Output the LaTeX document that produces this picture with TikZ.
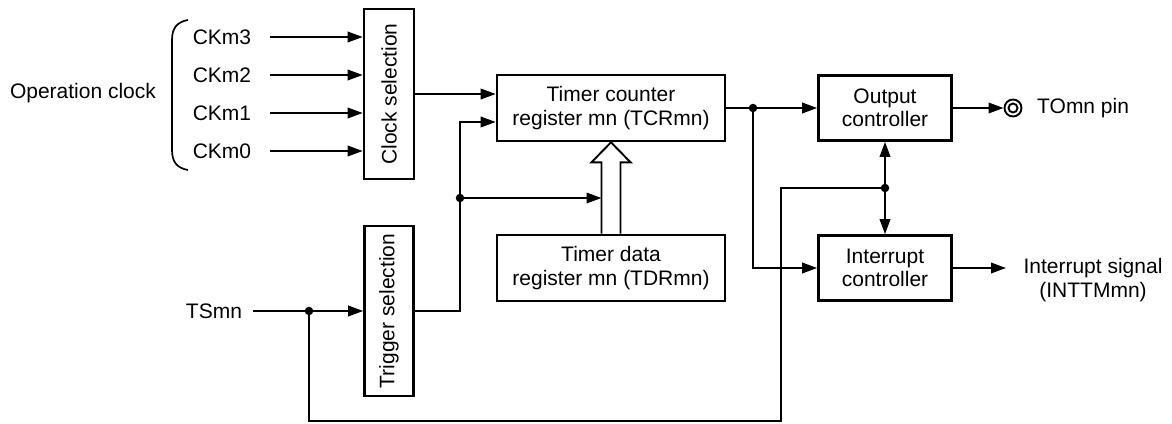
\documentclass[tikz,border=0pt]{standalone}
\usepackage{fontspec}
\setmainfont{Liberation Sans}
\usetikzlibrary{arrows.meta,calc}
\begin{document}
\begin{tikzpicture}[x=1pt,y=-1pt,
  font=\fontsize{21}{23.5}\selectfont,
  box/.style={draw,line width=2.6pt,inner sep=0pt,align=center},
  wire/.style={line width=1.9pt},
  arr/.style={wire,-{Triangle[length=15pt,width=10.5pt]}},
  darr/.style={wire,{Triangle[length=15pt,width=10.5pt]}-{Triangle[length=15pt,width=10.5pt]}},
  dot/.style={circle,fill,inner sep=0pt,minimum size=8.5pt},
  lbl/.style={inner sep=3pt}]
\useasboundingbox (0,0) rectangle (1172,423);
% boxes
\node[box,minimum width=50pt,minimum height=170pt] (clk) at (389,94) {\rotatebox{90}{Clock selection}};
\node[box,minimum width=49pt,minimum height=170pt] (trg) at (389,311) {\rotatebox{90}{Trigger selection}};
\node[box,minimum width=228pt,minimum height=66pt] (tcr) at (611,108) {Timer counter\\register mn (TCRmn)};
\node[box,minimum width=228pt,minimum height=66pt] (tdr) at (611,268) {Timer data\\register mn (TDRmn)};
\node[box,minimum width=133pt,minimum height=65pt] (out) at (885,108) {Output\\controller};
\node[box,minimum width=133pt,minimum height=65pt] (int) at (885,268) {Interrupt\\controller};
% labels
\node[lbl] (op) at (83,93) {Operation clock};
\node[lbl] (ck3) at (222,37) {CKm3};
\node[lbl] (ck2) at (222,75) {CKm2};
\node[lbl] (ck1) at (222,113) {CKm1};
\node[lbl] (ck0) at (222,151) {CKm0};
\node[lbl] (ts) at (214,311) {TSmn};
\node[circle,draw,line width=1.9pt,inner sep=0pt,minimum size=17pt] (pin) at (1013,108) {};
\node[lbl,anchor=west] (tom) at (1034,108) {TOmn pin};
\node[lbl,align=center] (isg) at (1093,280) {Interrupt signal\\(INTTMmn)};
\draw[wire] (pin) circle[radius=4.5pt];
% brace
\draw[wire,line width=1.7pt] (188,20) .. controls (177,22) and (172,28) .. (172,40) -- (172,150) .. controls (172,162) and (177,168) .. (188,170);
% clock inputs
\foreach \c in {ck3,ck2,ck1,ck0}
  \draw[arr] ([xshift=16pt]\c.east) -- (clk.west |- \c.east);
% clock to TCR
\draw[arr] (clk.east) -- (tcr.west |- clk.east);
% trigger
\coordinate (j1) at (460,198);
\coordinate (j2) at (309,311);
\draw[arr] ([xshift=8pt]ts.east) -- (trg.west);
\draw[arr] (trg.east) -| (j1) |- ([yshift=-14pt]tcr.west);
\draw[arr] (j1) -- ([xshift=-9.5pt]tcr.south |- j1);
\node[dot] at (j1) {};
\node[dot] at (j2) {};
% hollow arrow TDR -> TCR
\draw[line width=1.9pt,fill=white,line join=miter]
  ([xshift=-9.5pt]tdr.north) -- ([xshift=-9.5pt,yshift=-20pt]tcr.south)
  -- ([xshift=-19.5pt,yshift=-20pt]tcr.south) -- (tcr.south)
  -- ([xshift=19.5pt,yshift=-20pt]tcr.south) -- ([xshift=9.5pt,yshift=-20pt]tcr.south)
  -- ([xshift=9.5pt]tdr.north);
% TCR outputs
\coordinate (j4) at (753,108);
\draw[arr] (tcr.east) -- (out.west);
\draw[arr] (j4) |- (int.west);
\node[dot] at (j4) {};
% controllers link
\coordinate (j3) at ($(out.south)!0.5!(int.north)$);
\draw[darr] (out.south) -- (int.north);
\coordinate (bl) at (781,421);
\draw[wire] (j2) |- (bl) |- (j3);
\node[dot] at (j3) {};
% outputs
\draw[arr] (out.east) -- (pin.west);
\coordinate (isig) at (1006,268);
\draw[arr] (int.east) -- (isig);
\end{tikzpicture}
\end{document}
